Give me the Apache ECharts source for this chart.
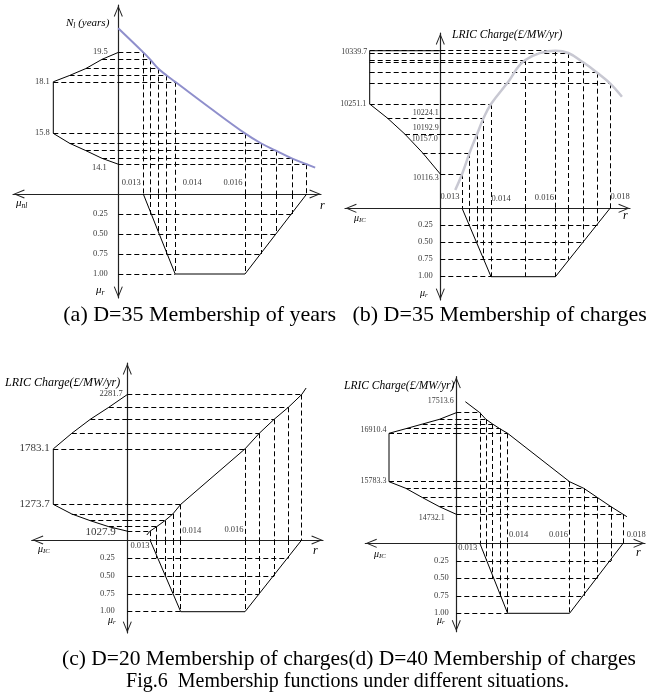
<!DOCTYPE html>
<html><head><meta charset="utf-8">
<script src="https://cdn.jsdelivr.net/npm/echarts@6/dist/echarts.min.js"></script>
<style>html,body{margin:0;padding:0;background:#fff}#c{width:657px;height:696px}</style>
</head><body><div id="c"></div>
<script>
// ================= DATA =================
const LEVELS = [0.25, 0.50, 0.75, 1.00];
const LEVEL_TEXT = ['0.25', '0.50', '0.75', '1.00'];
const TRAP_MU = [0, 1, 1, 0];

// (a) D=35 Membership of years
const aCutR = [0.01300, 0.01320, 0.01344, 0.01369, 0.01394, 0.01600, 0.01647, 0.01691, 0.01738, 0.01782];
const aCutV = [19.52, 19.19, 18.75, 18.42, 18.12, 15.66, 15.19, 14.84, 14.47, 14.19];
const aCutMu = [0, 0.25, 0.5, 0.75, 1, 1, 0.75, 0.5, 0.25, 0];
const aCutAlpha = [0, 0.25, 0.5, 0.75, 1, 1, 0.75, 0.5, 0.25, 0];
const aPolyMu = [0, 0.25, 0.5, 0.75, 1, 1, 0.75, 0.5, 0.25, 0];
const aPolyV = [19.52, 19.19, 18.75, 18.42, 18.12, 15.66, 15.19, 14.84, 14.47, 14.19];
const aTrapR = [0.01300, 0.01394, 0.01600, 0.01782];
const aLevelEndR = [0.01738, 0.01691, 0.01647, 0.01394];
const aCurveR = [0.01226, 0.01300, 0.01320, 0.01344, 0.01369, 0.01394, 0.01497, 0.01600, 0.01647, 0.01691, 0.01738, 0.01782, 0.01807];
const aCurveV = [20.67, 19.52, 19.19, 18.75, 18.42, 18.12, 16.87, 15.66, 15.19, 14.84, 14.47, 14.19, 14.03];
const aValueText = ['19.5', '18.1', '15.8', '14.1'];
const aRText = ['0.013', '0.014', '0.016'];

// (b) D=35 Membership of charges
const bCutR = [0.01299, 0.01324, 0.01349, 0.01371, 0.01396, 0.01511, 0.01612, 0.01655, 0.01705, 0.01752, 0.01795];
const bCutV = [10116.3, 10157.0, 10192.9, 10224.1, 10251.1, 10335.8, 10353.7, 10349.3, 10331.4, 10311.4, 10291.0];
const bCutMu = [0, 0.25, 0.5, 0.75, 1, 1, 1, 1, 1, 1, 1];
const bCutAlpha = [0, 0.25, 0.5, 0.75, 1, 1, 1, 0.75, 0.5, 0.25, 0];
const bPolyMu = [0, 1, 1, 0.75, 0.5, 0.25, 0];
const bPolyV = [10353.7, 10353.7, 10251.1, 10224.1, 10192.9, 10157.0, 10116.3];
const bTrapR = [0.01299, 0.01396, 0.01612, 0.01795];
const bLevelEndR = [0.01752, 0.01705, 0.01655, 0.01396];
const bCurveR = [0.01276, 0.01299, 0.01324, 0.01349, 0.01371, 0.01396, 0.01450, 0.01511, 0.01612, 0.01655, 0.01705, 0.01752, 0.01795, 0.01835];
const bCurveV = [10085.6, 10116.3, 10157.0, 10192.9, 10224.1, 10251.1, 10291.0, 10335.8, 10353.7, 10349.3, 10331.4, 10311.4, 10291.0, 10265.2];
const bValueText = ['10339.7', '10251.1', '10224.1', '10192.9', '10157.0', '10116.3'];
const bRText = ['0.013', '0.014', '0.016', '0.018'];

// (c) D=20 Membership of charges
const cCutR = [0.01300, 0.01321, 0.01347, 0.01372, 0.01397, 0.01600, 0.01645, 0.01692, 0.01737, 0.01779];
const cCutV = [1027.9, 1068.9, 1124.0, 1185.5, 1273.7, 1783.1, 1926.1, 2054.6, 2164.8, 2281.7];
const cCutMu = [0, 0.25, 0.5, 0.75, 1, 1, 0.75, 0.5, 0.25, 0];
const cCutAlpha = [0, 0.25, 0.5, 0.75, 1, 1, 0.75, 0.5, 0.25, 0];
const cPolyMu = [0, 0.25, 0.5, 0.75, 1, 1, 0.75, 0.5, 0.25, 0];
const cPolyV = [1027.9, 1068.9, 1124.0, 1185.5, 1273.7, 1783.1, 1926.1, 2054.6, 2164.8, 2281.7];
const cTrapR = [0.01300, 0.01397, 0.01600, 0.01779];
const cLevelEndR = [0.01737, 0.01692, 0.01645, 0.01397];
const cCurveR = [0.01290, 0.01300, 0.01321, 0.01347, 0.01372, 0.01397, 0.01600, 0.01645, 0.01692, 0.01737, 0.01779, 0.01793];
const cCurveV = [992.7, 1027.9, 1068.9, 1124.0, 1185.5, 1273.7, 1783.1, 1926.1, 2054.6, 2164.8, 2281.7, 2341.9];
const cValueText = ['2281.7', '1783.1', '1273.7', '1027.9'];
const cRText = ['0.013', '0.014', '0.016'];

// (d) D=40 Membership of charges
const dCutR = [0.01300, 0.01321, 0.01344, 0.01369, 0.01396, 0.01610, 0.01659, 0.01707, 0.01753, 0.01795];
const dCutV = [17510.1, 17334.0, 17208.7, 17083.3, 16960.5, 15669.2, 15493.1, 15242.4, 15002.2, 14799.4];
const dCutMu = [0, 0.25, 0.5, 0.75, 1, 1, 0.75, 0.5, 0.25, 0];
const dCutAlpha = [0, 0.25, 0.5, 0.75, 1, 1, 0.75, 0.5, 0.25, 0];
const dPolyMu = [0, 0.25, 0.5, 0.75, 1, 1, 0.75, 0.5, 0.25, 0];
const dPolyV = [17510.1, 17334.0, 17208.7, 17083.3, 16960.5, 15669.2, 15493.1, 15242.4, 15002.2, 14799.4];
const dTrapR = [0.01300, 0.01396, 0.01610, 0.01795];
const dLevelEndR = [0.01753, 0.01707, 0.01659, 0.01396];
const dCurveR = [0.01250, 0.01300, 0.01321, 0.01344, 0.01369, 0.01396, 0.01610, 0.01659, 0.01707, 0.01753, 0.01795, 0.01808];
const dCurveV = [17803.6, 17510.1, 17334.0, 17208.7, 17083.3, 16960.5, 15669.2, 15493.1, 15242.4, 15002.2, 14799.4, 14735.4];
const dValueText = ['17513.6', '16910.4', '15783.3', '14732.1'];
const dRText = ['0.013', '0.014', '0.016', '0.018'];

const CAPTION_AB = '(a) D=35 Membership of years   (b) D=35 Membership of charges';
const CAPTION_CD = '(c) D=20 Membership of charges(d) D=40 Membership of charges';
const CAPTION_FIG = 'Fig.6  Membership functions under different situations.';

// ================= LAYOUT / STYLE =================
const W = 657, H = 696;
const SERIF = '"Liberation Serif","DejaVu Serif","Times New Roman",serif';

const PANELS = [
  { D: {cutR:aCutR, cutV:aCutV, cutMu:aCutMu, cutAlpha:aCutAlpha, polyMu:aPolyMu, polyV:aPolyV, trapR:aTrapR, levelEndR:aLevelEndR, curveR:aCurveR, curveV:aCurveV},
    L: { ox:118.3, oy:194, mu1x:53.3, mu1y:274, rAnc:[143.3,0.013,245,0.016], vAnc:[107.9,16.875,128.88,15.875],
         axis:{x0:13,x1:321,y0:5,y1:298}, curveColor:'#8f8fcc', curveWidth:2, smooth:0.4, levelDx:-10,
         vLabels: aValueText.map((t,i)=>({t, x:aPolyMu[[0,4,5,9][i]], y:aPolyV[[0,4,5,9][i]], dx:[-10,-3,-3,-11][i], dy:[0,0,0,4][i], size:8.5})),
         rLabels: aRText.map((t,i)=>({t, x:aTrapR[i], dx:[-2,8,-2][i], dy:-11, align:['right','left','right'][i]})),
         texts: [
           {x:66, y:23, rich:'{i|N}{s|l}{i| (years)}', size:11},
           {x:16, y:203, rich:'{i|μ}{s|nl}', size:11},
           {x:320, y:206, rich:'{i|r}', size:12},
           {x:96, y:290, rich:'{i|μ}{s|r}', size:11}
         ] } },
  { D: {cutR:bCutR, cutV:bCutV, cutMu:bCutMu, cutAlpha:bCutAlpha, polyMu:bPolyMu, polyV:bPolyV, trapR:bTrapR, levelEndR:bLevelEndR, curveR:bCurveR, curveV:bCurveV},
    L: { ox:440.3, oy:208.3, mu1x:369.7, mu1y:276.7, rAnc:[529.5,0.01525,559.32,0.01625], vAnc:[104,10251.1,174,10116.3],
         axis:{x0:345,x1:630,y0:33,y1:300}, curveColor:'#c8c8d2', curveWidth:2.5, smooth:0.4, levelDx:-7,
         vLabels: [
           {t:bValueText[0], x:bPolyMu[1], y:bPolyV[1], dx:-2, dy:2, size:8},
           {t:bValueText[1], x:bPolyMu[2], y:bPolyV[2], dx:-3, dy:0, size:8},
           {t:bValueText[2], x:0, y:bCutV[3], dx:-1, dy:-4.5, size:8},
           {t:bValueText[3], x:0, y:bCutV[2], dx:-1, dy:-6, size:8},
           {t:bValueText[4], x:0, y:bCutV[1], dx:-2, dy:-13, size:8},
           {t:bValueText[5], x:0, y:bCutV[0], dx:-1, dy:4, size:8}
         ],
         rLabels: bRText.map((t,i)=>({t, x:bTrapR[i], dx:[-2,1,-1,1][i], dy:[-11,-9,-10,-11][i], align:['right','left','right','left'][i]})),
         texts: [
           {x:452, y:35, rich:'{i|LRIC Charge(£/MW/yr)}', size:11.5},
           {x:354, y:218, rich:'{i|μ}{s|IC}', size:10},
           {x:623, y:216, rich:'{i|r}', size:12},
           {x:420, y:293, rich:'{i|μ}{s|r}', size:10}
         ] } },
  { D: {cutR:cCutR, cutV:cCutV, cutMu:cCutMu, cutAlpha:cCutAlpha, polyMu:cPolyMu, polyV:cPolyV, trapR:cTrapR, levelEndR:cLevelEndR, curveR:cCurveR, curveV:cCurveV},
    L: { ox:127.3, oy:540, mu1x:53.3, mu1y:611.7, rAnc:[150,0.013,245,0.016], vAnc:[469.75,1591.6,569.75,673.8],
         axis:{x0:31.7,x1:323,y0:363,y1:633}, curveColor:'#000', curveWidth:1, smooth:false, levelDx:-12,
         vLabels: cValueText.map((t,i)=>({t, x:cPolyMu[[9,5,4,0][i]], y:cPolyV[[9,5,4,0][i]], dx:[-4,-3,-3,-11][i], dy:[0,0,0,1][i], size:[8.5,11,11,11][i]})),
         rLabels: cRText.map((t,i)=>({t, x:cTrapR[i], dx:[0,2,-1][i], dy:[6,-9,-10][i], align:['right','left','right'][i]})),
         texts: [
           {x:5, y:383, rich:'{i|LRIC Charge(£/MW/yr)}', size:12},
           {x:38, y:549, rich:'{i|μ}{s|IC}', size:10},
           {x:313, y:551, rich:'{i|r}', size:12},
           {x:108, y:620, rich:'{i|μ}{s|r}', size:10}
         ] } },
  { D: {cutR:dCutR, cutV:dCutV, cutMu:dCutMu, cutAlpha:dCutAlpha, polyMu:dPolyMu, polyV:dPolyV, trapR:dTrapR, levelEndR:dLevelEndR, curveR:dCurveR, curveV:dCurveV},
    L: { ox:456.3, oy:543.3, mu1x:389, mu1y:613.3, rAnc:[544.97,0.01525,573.92,0.01625], vAnc:[460.5,16234.85,560.5,13566.85],
         axis:{x0:365.3,x1:645,y0:376.7,y1:631.7}, curveColor:'#000', curveWidth:1, smooth:false, levelDx:-7,
         vLabels: dValueText.map((t,i)=>({t, x:dPolyMu[[0,4,5,9][i]], y:dPolyV[[0,4,5,9][i]], dx:[-2,-2,-2,-11][i], dy:[-11,-3,0,4][i], size:8})),
         rLabels: dRText.map((t,i)=>({t, x:dTrapR[i], dx:[-2,2,-1,4][i], dy:[5,-8,-8,-8][i], align:['right','left','right','left'][i]})),
         texts: [
           {x:344, y:386, rich:'{i|LRIC Charge(£/MW/yr)}', size:11.5},
           {x:374, y:554, rich:'{i|μ}{s|IC}', size:10},
           {x:636, y:553, rich:'{i|r}', size:12},
           {x:437, y:620, rich:'{i|μ}{s|r}', size:10}
         ] } }
];

// ================= BUILD =================
function lin(p1, v1, p2, v2) { const k = (v2 - v1) / (p2 - p1); return p => v1 + (p - p1) * k; }
function xAx(f, grid, pos) { const a = f(0), b = f(W); return {type:'value', gridIndex:grid, position:pos, min:Math.min(a,b), max:Math.max(a,b), inverse:a>b, show:false}; }
function yAx(f, grid, pos) { const a = f(0), b = f(H); return {type:'value', gridIndex:grid, position:pos, min:Math.min(a,b), max:Math.max(a,b), inverse:a<b, show:false}; }

const grids = [], xAxes = [], yAxes = [], series = [], graphics = [];
const DASH = {color:'#000', width:1, type:[5,3], opacity:1};
const SOLID = {color:'#000', width:1};

function labelItem(x, y, text, o) {
  return {value:[x, y], label:{show:true, formatter:text, position:[o.dx||0, o.dy||0], align:o.align||'right', verticalAlign:'middle',
    fontSize:o.size||8.5, fontFamily:SERIF, color:'#000'}};
}
function richText(x, y, rich, size) {
  return {type:'text', x, y, silent:true, z:100, style:{text:rich, x:0, y:0, textAlign:'left', textVerticalAlign:'middle', align:'left', verticalAlign:'middle', fill:'#000',
    fontFamily:SERIF, fontSize:size,
    rich:{ i:{fontStyle:'italic', fontFamily:SERIF, fontSize:size, fill:'#000', lineHeight:size+2},
           s:{fontStyle:'italic', fontFamily:SERIF, fontSize:size*0.68, fill:'#000', verticalAlign:'bottom', lineHeight:size+2, padding:[size*0.35,0,0,0]} }}};
}

PANELS.forEach((P, p) => {
  const L = P.L, D = P.D;
  grids.push({left:0, top:0, width:W, height:H, outerBoundsMode:'none'});
  const fr = lin(...L.rAnc), fmu = lin(L.ox, 0, L.mu1x, 1), fv = lin(...L.vAnc), fmr = lin(L.oy, 0, L.mu1y, 1);
  xAxes.push(xAx(fr, p, 'bottom'));
  xAxes.push(xAx(fmu, p, 'top'));
  yAxes.push(yAx(fv, p, 'left'));
  yAxes.push(yAx(fmr, p, 'right'));
  const XR = 2*p, XM = 2*p+1, YV = 2*p, YM = 2*p+1;
  const r0 = fr(L.ox), vBase = fv(L.oy);
  const base = {silent:true, animation:false};

  // curve
  series.push(Object.assign({type:'line', xAxisIndex:XR, yAxisIndex:YV, data:D.curveR.map((r,i)=>[r, D.curveV[i]]),
    symbol:'none', smooth:L.smooth, lineStyle:{color:L.curveColor, width:L.curveWidth}, z:3}, base));
  // left membership polygon
  series.push(Object.assign({type:'line', xAxisIndex:XM, yAxisIndex:YV, data:D.polyMu.map((m,i)=>[m, D.polyV[i]]),
    symbol:'none', lineStyle:SOLID, z:4}, base));
  // lower trapezoid
  series.push(Object.assign({type:'line', xAxisIndex:XR, yAxisIndex:YM, data:D.trapR.map((r,i)=>[r, TRAP_MU[i]]),
    symbol:'none', lineStyle:SOLID, z:4}, base));

  const ul = [], ur = [], lr = [];
  D.cutR.forEach((r, i) => {
    const v = D.cutV[i], mu = D.cutMu[i], al = D.cutAlpha[i];
    if (mu > 0) ul.push({coords:[[mu, v], [0, v]]});
    ur.push({coords:[[r0, v], [r, v]]});
    ur.push({coords:[[r, v], [r, vBase]]});
    if (al > 0) lr.push({coords:[[r, 0], [r, al]]});
  });
  LEVELS.forEach((lv, i) => lr.push({coords:[[r0, lv], [D.levelEndR[i], lv]]}));
  [[ul, XM, YV], [ur, XR, YV], [lr, XR, YM]].forEach(([data, xi, yi]) => {
    series.push(Object.assign({type:'lines', coordinateSystem:'cartesian2d', xAxisIndex:xi, yAxisIndex:yi, polyline:false,
      data, lineStyle:DASH, z:2}, base));
  });

  // labels
  const ulLabels = L.vLabels.map(o => labelItem(o.x, o.y, o.t, o));
  const lrLabels = LEVELS.map((lv, i) => labelItem(r0, lv, LEVEL_TEXT[i], {dx:L.levelDx, dy:0, size:8.5}))
    .concat(L.rLabels.map(o => labelItem(o.x, 0, o.t, Object.assign({size:8.5}, o))));
  series.push(Object.assign({type:'scatter', xAxisIndex:XM, yAxisIndex:YV, symbolSize:1, itemStyle:{color:'rgba(0,0,0,0)'}, data:ulLabels, z:6}, base));
  series.push(Object.assign({type:'scatter', xAxisIndex:XR, yAxisIndex:YM, symbolSize:1, itemStyle:{color:'rgba(0,0,0,0)'}, data:lrLabels, z:6}, base));

  L.texts.forEach(t => graphics.push(richText(t.x, t.y, t.rich, t.size)));
});

// frame axes with open arrows
const CHEV = 'path://M0,12 L5,0 L10,12 L9,12.5 L5,2.6 L1,12.5 Z';
PANELS.forEach((P, p) => {
  const L = P.L, A = L.axis;
  grids.push({left:A.x0, top:A.y0, width:A.x1 - A.x0, height:A.y1 - A.y0, outerBoundsMode:'none'});
  const common = {axisLine:{show:true, onZero:true, symbol:[CHEV, CHEV], symbolSize:[9, 12], symbolOffset:[6, -6], lineStyle:{color:'#222', width:1.2}},
    axisTick:{show:false}, axisLabel:{show:false}, splitLine:{show:false}};
  xAxes.push(Object.assign({type:'value', gridIndex:4 + p, min:A.x0 - L.ox, max:A.x1 - L.ox}, common));
  yAxes.push(Object.assign({type:'value', gridIndex:4 + p, min:L.oy - A.y1, max:L.oy - A.y0}, common));
});

function caption(x, y, text, size) {
  return {type:'text', x, y, silent:true, style:{text, x:0, y:0, textAlign:'center', textVerticalAlign:'middle', align:'center', verticalAlign:'middle',
    fill:'#000', fontFamily:SERIF, fontSize:size}};
}
graphics.push(caption(355, 315, CAPTION_AB, 22));
graphics.push(caption(349, 659, CAPTION_CD, 21.5));
graphics.push(caption(347.5, 682, CAPTION_FIG, 20));

const chart = echarts.init(document.getElementById('c'), null, {renderer:'canvas', width:W, height:H});
chart.setOption({animation:false, backgroundColor:'#fff', grid:grids, xAxis:xAxes, yAxis:yAxes, series, graphic:{elements:graphics}});
</script></body></html>
